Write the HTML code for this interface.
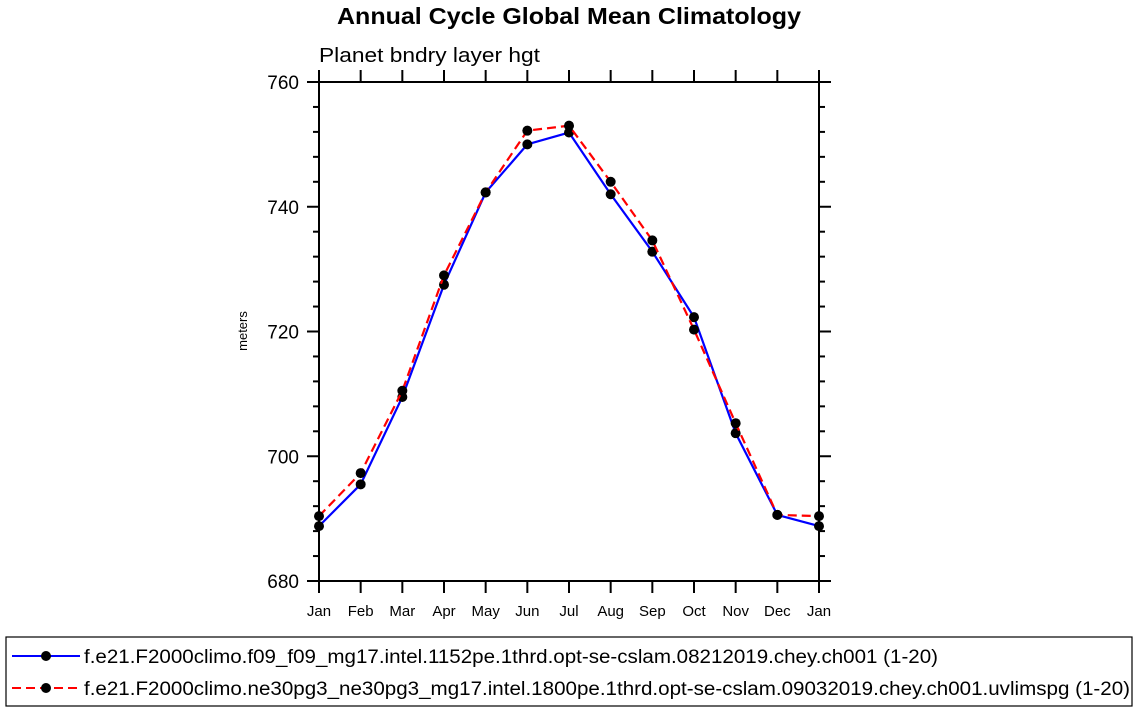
<!DOCTYPE html>
<html><head><meta charset="utf-8"><style>
body{margin:0;background:#fff;width:1138px;height:712px;overflow:hidden}
text{font-family:"Liberation Sans",Helvetica,sans-serif}
</style></head><body>
<svg id="chart" width="1138" height="712" xmlns="http://www.w3.org/2000/svg">
<text x="337" y="24" font-size="23" font-weight="bold" textLength="464" lengthAdjust="spacingAndGlyphs">Annual Cycle Global Mean Climatology</text>
<text x="319" y="62" font-size="20" textLength="221" lengthAdjust="spacingAndGlyphs">Planet bndry layer hgt</text>
<text transform="translate(247,331) rotate(-90)" text-anchor="middle" font-size="13">meters</text>
<g id="axes"></g>
<g id="series"></g>
<g>
<rect x="6" y="637" width="1126" height="69" fill="none" stroke="#000" stroke-width="1.2"/>
<g>
<line x1="12" y1="656" x2="80" y2="656" stroke="#0000ff" stroke-width="2"/>
<circle cx="46" cy="656" r="5" fill="#000"/>
<text x="84" y="663" font-size="19" textLength="854" lengthAdjust="spacingAndGlyphs">f.e21.F2000climo.f09_f09_mg17.intel.1152pe.1thrd.opt-se-cslam.08212019.chey.ch001 (1-20)</text>
</g>
<g>
<line x1="12" y1="688" x2="80" y2="688" stroke="#ff0000" stroke-width="2" stroke-dasharray="9,5"/>
<circle cx="46" cy="688" r="5" fill="#000"/>
<text x="84" y="695" font-size="19" textLength="1046" lengthAdjust="spacingAndGlyphs">f.e21.F2000climo.ne30pg3_ne30pg3_mg17.intel.1800pe.1thrd.opt-se-cslam.09032019.chey.ch001.uvlimspg (1-20)</text>
</g>
</g>
</svg>
<script>
const months = ["Jan","Feb","Mar","Apr","May","Jun","Jul","Aug","Sep","Oct","Nov","Dec","Jan"];
const seriesBlue = [688.8,695.5,709.5,727.5,742.3,750.0,751.9,742.0,732.8,722.3,703.7,690.6,688.8];
const seriesRed = [690.4,697.3,710.5,729.0,742.3,752.2,753.0,744.0,734.6,720.3,705.3,690.6,690.4];
const yTicks = [680,700,720,740,760];
const yMin = 680, yMax = 760;
const X0 = 319, X1 = 819, Y0 = 581, Y1 = 82;
const NS = "http://www.w3.org/2000/svg";
function xs(i){return X0 + i*(X1-X0)/(months.length-1);}
function ys(v){return Y0 - (v-yMin)*(Y0-Y1)/(yMax-yMin);}
function mk(tag, attrs, parent){const e=document.createElementNS(NS,tag);for(const k in attrs)e.setAttribute(k,attrs[k]);parent.appendChild(e);return e;}
const ax = document.getElementById('axes');
const box = mk('rect',{x:X0,y:Y1,width:X1-X0,height:Y0-Y1,fill:'none',stroke:'#000','stroke-width':2},ax);


for(let v=yMin; v<=yMax; v+=4){
  const major = (v-yMin)%20===0;
  const len = major?12:6;
  const y = ys(v);
  mk('line',{x1:X0-len,y1:y,x2:X0,y2:y,stroke:'#000','stroke-width':2},ax);
  mk('line',{x1:X1,y1:y,x2:X1+len,y2:y,stroke:'#000','stroke-width':2},ax);
}
yTicks.forEach(v=>{
  const t = mk('text',{x:X0-20,y:ys(v)+7,'text-anchor':'end','font-size':19},ax);
  
  
  t.textContent = v;
});
months.forEach((m,i)=>{
  const x = xs(i);
  mk('line',{x1:x,y1:Y0,x2:x,y2:Y0+12,stroke:'#000','stroke-width':2},ax);
  mk('line',{x1:x,y1:Y1-12,x2:x,y2:Y1,stroke:'#000','stroke-width':2},ax);
  const t = mk('text',{x:x,y:Y0+35,'text-anchor':'middle','font-size':15},ax);
  
  
  t.textContent = m;
});
const sg = document.getElementById('series');
function drawSeries(vals,color,dash,name){
  const g = mk('g',{},sg);
  
  
  const pts = vals.map((v,i)=>xs(i)+','+ys(v)).join(' ');
  const attrs = {points:pts,fill:'none',stroke:color,'stroke-width':2.2};
  if(dash) attrs['stroke-dasharray']=dash;
  mk('polyline',attrs,g);
  vals.forEach((v,i)=>{
    const c = mk('circle',{cx:xs(i),cy:ys(v),r:5,fill:'#000'},g);
    
    
  });
}
drawSeries(seriesBlue,'#0000ff',null,'series-f09');
drawSeries(seriesRed,'#ff0000','9,5','series-ne30pg3');
</script>
</body></html>
